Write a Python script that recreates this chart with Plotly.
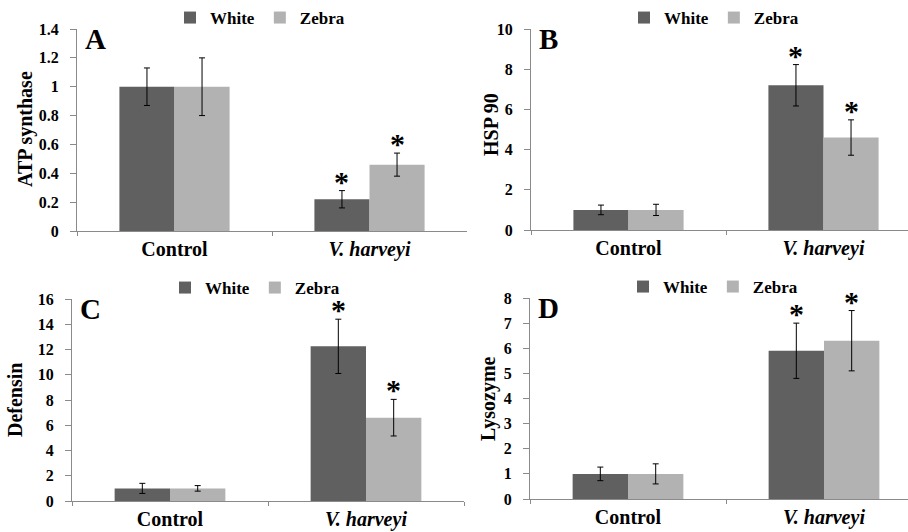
import plotly.graph_objects as go

W, H = 908, 532

categories = ["Control", "<i>V. harveyi</i>"]
series_names = ["White", "Zebra"]
colors = ["#606060", "#b2b2b2"]

atp_white = [1.0, 0.22]
atp_white_err = [0.13, 0.06]
atp_zebra = [1.0, 0.46]
atp_zebra_err = [0.20, 0.08]

hsp_white = [1.0, 7.2]
hsp_white_err = [0.24, 1.03]
hsp_zebra = [1.0, 4.6]
hsp_zebra_err = [0.28, 0.88]

def_white = [1.0, 12.25]
def_white_err = [0.40, 2.15]
def_zebra = [1.0, 6.6]
def_zebra_err = [0.22, 1.45]

lys_white = [1.0, 5.9]
lys_white_err = [0.27, 1.1]
lys_zebra = [1.0, 6.3]
lys_zebra_err = [0.40, 1.2]

# significance markers: (category index, series index)
signif = [(1, 0), (1, 1)]

panels = [
    dict(letter="A", title="ATP synthase", data=[(atp_white, atp_white_err), (atp_zebra, atp_zebra_err)],
         yrange=[0, 1.4], dtick=0.2, box=(77, 467, 29, 231), tpos=(26, 129)),
    dict(letter="B", title="HSP 90", data=[(hsp_white, hsp_white_err), (hsp_zebra, hsp_zebra_err)],
         yrange=[0, 10], dtick=2, box=(531, 921, 29, 230), tpos=(491, 125)),
    dict(letter="C", title="Defensin", data=[(def_white, def_white_err), (def_zebra, def_zebra_err)],
         yrange=[0, 16], dtick=2, box=(72, 464, 299, 501), tpos=(15, 400)),
    dict(letter="D", title="Lysozyme", data=[(lys_white, lys_white_err), (lys_zebra, lys_zebra_err)],
         yrange=[0, 8], dtick=1, box=(530, 922, 298, 499), tpos=(488, 398)),
]

FONT = "Liberation Serif, Times New Roman, serif"
BARGAP = 0.435
bar_w = (1 - BARGAP) / 2

fig = go.Figure()
layout = dict(
    width=W, height=H, margin=dict(l=0, r=0, t=0, b=0, autoexpand=False),
    paper_bgcolor="white", plot_bgcolor="white",
    barmode="group", bargap=BARGAP, bargroupgap=0,
    font=dict(family=FONT, color="black"),
    showlegend=True,
)
annotations = []

for i, p in enumerate(panels):
    n = "" if i == 0 else str(i + 1)
    xa, ya = "x" + n, "y" + n
    leg = "legend" + n
    x0, x1, y0, y1 = p["box"]
    unit = (x1 - x0) / 2.0
    xr1 = min(x1, W)
    rng_hi = 1.5 - (x1 - xr1) / unit
    for s, (vals, errs) in enumerate(p["data"]):
        fig.add_trace(go.Bar(
            x=categories, y=vals, name=series_names[s],
            marker=dict(color=colors[s], line=dict(width=0)),
            error_y=dict(type="data", array=errs, color="black", thickness=1, width=3),
            xaxis=xa, yaxis=ya, legend=leg, showlegend=True,
        ))
    layout["xaxis" + n] = dict(
        domain=[x0 / W, xr1 / W], anchor=ya, type="category", range=[-0.5, rng_hi],
        showline=True, linecolor="#8a8a8a", linewidth=1, automargin=False,
        ticks="outside", tickson="boundaries", ticklen=4, tickcolor="#8a8a8a",
        tickfont=dict(family=FONT, size=20, color="black", weight="bold"),
        showgrid=False, zeroline=False, fixedrange=True,
    )
    layout["yaxis" + n] = dict(
        domain=[1 - y1 / H, 1 - y0 / H], anchor=xa, range=p["yrange"], dtick=p["dtick"],
        showline=True, linecolor="#8a8a8a", linewidth=1, automargin=False,
        ticks="outside", ticklen=6, tickcolor="#8a8a8a", ticklabelstandoff=8,
        tickfont=dict(family=FONT, size=16, color="black", weight="bold"),
        showgrid=False, zeroline=False,
    )
    layout[leg] = dict(
        orientation="h", x=(x0 + 93) / W, xanchor="left",
        y=1 - (y0 - 29) / H, yanchor="top",
        font=dict(family=FONT, size=17, color="black", weight="bold"),
        bgcolor="rgba(0,0,0,0)", itemwidth=30, tracegroupgap=0,
    )
    # y-axis title
    tx, ty = p["tpos"]
    annotations.append(dict(
        text="<b>" + p["title"] + "</b>", xref="paper", yref="paper",
        x=tx / W, y=1 - ty / H, xanchor="center", yanchor="middle", textangle=-90,
        showarrow=False, font=dict(family=FONT, size=20, color="black"),
    ))
    # panel letter
    annotations.append(dict(
        text="<b>" + p["letter"] + "</b>", xref="paper", yref="paper",
        x=(x0 + 6) / W, y=1 - (y0 - 8) / H, xanchor="left", yanchor="top",
        showarrow=False, font=dict(family=FONT, size=29, color="black"),
    ))
    # significance asterisks
    for (c, s) in signif:
        vals, errs = p["data"][s]
        xpos = c + (s - 0.5) * bar_w
        annotations.append(dict(
            text="<b>*</b>", xref=xa, yref=ya, x=xpos, y=vals[c] + errs[c],
            xanchor="center", yanchor="bottom", yshift=-9, showarrow=False,
            font=dict(family=FONT, size=30, color="black"),
        ))

layout["annotations"] = annotations
fig.update_layout(**layout)
fig.write_html("out.html", config={"displayModeBar": False})

# remove the browser's default page margin so the figure fills the window
with open("out.html", "r", encoding="utf-8") as f:
    html = f.read()
html = html.replace("<head>", "<head><style>html,body{margin:0;padding:0;overflow:hidden;}</style>", 1)
with open("out.html", "w", encoding="utf-8") as f:
    f.write(html)
